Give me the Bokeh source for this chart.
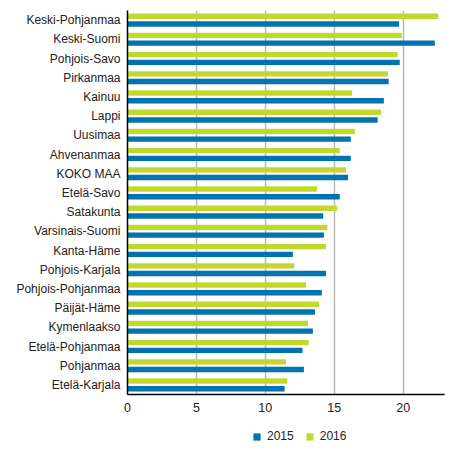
from bokeh.plotting import figure
from bokeh.layouts import column
from bokeh.models import FactorRange, Range1d, Legend, LegendItem, ColumnDataSource, FixedTicker
from bokeh.transform import dodge
from bokeh.embed import file_html
from bokeh.resources import INLINE

regions = ["Keski-Pohjanmaa", "Keski-Suomi", "Pohjois-Savo", "Pirkanmaa", "Kainuu", "Lappi",
           "Uusimaa", "Ahvenanmaa", "KOKO MAA", "Etelä-Savo", "Satakunta", "Varsinais-Suomi",
           "Kanta-Häme", "Pohjois-Karjala", "Pohjois-Pohjanmaa", "Päijät-Häme", "Kymenlaakso",
           "Etelä-Pohjanmaa", "Pohjanmaa", "Etelä-Karjala"]
v2015 = [19.7, 22.3, 19.75, 18.95, 18.6, 18.15, 16.2, 16.2, 16.0, 15.4,
         14.2, 14.25, 12.0, 14.4, 14.1, 13.6, 13.45, 12.7, 12.8, 11.4]
v2016 = [22.55, 19.9, 19.6, 18.9, 16.3, 18.4, 16.5, 15.4, 15.85, 13.75,
         15.2, 14.5, 14.4, 12.1, 12.95, 13.9, 13.1, 13.15, 11.5, 11.6]
years = ["2015", "2016"]
ticks = [0, 5, 10, 15, 20]

BLUE = "#0073b0"
GREEN = "#c3d82f"
FONT = "Liberation Sans"

src = ColumnDataSource(dict(region=regions, v2015=v2015, v2016=v2016))

p = figure(width=452, height=420, output_backend="svg", toolbar_location=None,
           y_range=FactorRange(factors=list(reversed(regions)), range_padding=0),
           x_range=Range1d(0, 23),
           min_border_left=127, min_border_right=8, min_border_top=10, min_border_bottom=26)

p.hbar(y=dodge("region", 0.2, range=p.y_range), right="v2016", left=0, height=0.28,
       source=src, color=GREEN, line_color=None)
p.hbar(y=dodge("region", -0.2, range=p.y_range), right="v2015", left=0, height=0.28,
       source=src, color=BLUE, line_color=None)

p.outline_line_color = None
p.ygrid.grid_line_color = None
p.xgrid.grid_line_color = "#b8b8b8"
p.xgrid.grid_line_width = 1.5
p.xaxis.ticker = FixedTicker(ticks=ticks)
p.xaxis.axis_line_color = "black"
p.yaxis.axis_line_color = "black"
p.xaxis.axis_line_width = 1.5
p.yaxis.axis_line_width = 1.5
for ax in (p.xaxis, p.yaxis):
    ax.major_tick_line_color = None
    ax.minor_tick_line_color = None
    ax.major_tick_out = 0
    ax.major_tick_in = 0
    ax.major_label_text_font = FONT
    ax.major_label_text_font_size = "12px"
    ax.major_label_text_color = "#222222"
p.xaxis.major_label_text_font_size = "12.5px"
p.xaxis.major_label_standoff = 8
p.yaxis.major_label_standoff = 7

# legend strip below the chart (zero-width proxy bars carry the legend swatches)
lg = figure(width=452, height=32, output_backend="svg", toolbar_location=None,
            x_range=Range1d(0, 1), y_range=Range1d(0, 1),
            x_axis_location=None, y_axis_location=None,
            min_border_left=0, min_border_right=0, min_border_top=0, min_border_bottom=0)
lg.outline_line_color = None
lg.xgrid.visible = False
lg.ygrid.visible = False
proxy = ColumnDataSource(dict(y=[0], left=[0], right=[0]))
k15 = lg.hbar(y="y", left="left", right="right", height=0.1, source=proxy, color=BLUE, line_color=None)
k16 = lg.hbar(y="y", left="left", right="right", height=0.1, source=proxy, color=GREEN, line_color=None)
legend = Legend(items=[LegendItem(label=years[0], renderers=[k15]),
                       LegendItem(label=years[1], renderers=[k16])],
                orientation="horizontal", location=(125, 9),
                label_text_font=FONT, label_text_font_size="12px", label_text_color="#222222",
                glyph_width=9, glyph_height=9, label_standoff=6, spacing=11,
                border_line_color=None, background_fill_alpha=0,
                margin=0, padding=4)
lg.add_layout(legend, "center")

open("out.html", "w").write(file_html(column(p, lg, spacing=0), INLINE))
